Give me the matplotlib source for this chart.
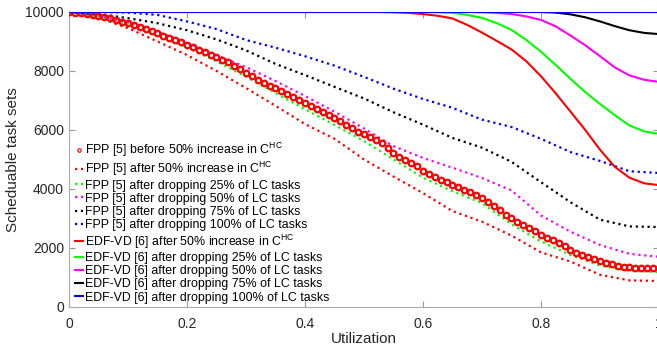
import numpy as np
import matplotlib
matplotlib.use('Agg')
import matplotlib.pyplot as plt

plt.rcParams['font.family'] = ['Liberation Sans', 'DejaVu Sans']
plt.rcParams['mathtext.fontset'] = 'custom'
plt.rcParams['mathtext.rm'] = 'Liberation Sans'

# utilization grids: FPP dotted lines (0.05 step), circles (0.01 step), EDF-VD lines (0.025 step after 0.5)
util = [0.0, 0.05, 0.1, 0.15, 0.2, 0.25, 0.3, 0.35, 0.4, 0.45, 0.5,
        0.55, 0.6, 0.65, 0.7, 0.75, 0.8, 0.85, 0.9, 0.95, 1.0]
util_fine = [round(i * 0.01, 2) for i in range(101)]
util_edf = [0.0, 0.5, 0.525, 0.55, 0.575, 0.6, 0.625, 0.65, 0.675, 0.7, 0.725,
            0.75, 0.775, 0.8, 0.825, 0.85, 0.875, 0.9, 0.925, 0.95, 0.975, 1.0]

# FPP before 50% increase (circles)
fpp_before = [10000, 9980, 9960, 9930, 9900, 9860, 9830, 9790, 9730, 9670,
              9610, 9550, 9490, 9420, 9350, 9280, 9200, 9120, 9050, 8970,
              8890, 8810, 8720, 8640, 8550, 8470, 8380, 8300, 8170, 8050,
              7940, 7830, 7710, 7600, 7500, 7410, 7310, 7210, 7110, 7010,
              6900, 6800, 6700, 6600, 6500, 6400, 6290, 6170, 6050, 5940,
              5850, 5760, 5660, 5560, 5390, 5220, 5100, 4980, 4880, 4780,
              4620, 4510, 4410, 4320, 4230, 4150, 4060, 3980, 3890, 3800,
              3700, 3560, 3420, 3270, 3120, 3000, 2880, 2780, 2680, 2560,
              2440, 2350, 2260, 2170, 2050, 1930, 1840, 1760, 1690, 1620,
              1560, 1490, 1440, 1400, 1360, 1340, 1330, 1320, 1320, 1320,
              1320]

# FPP dotted curves
fpp_inc50 = [10000, 9810, 9450, 9000, 8540, 8000, 7420, 6820, 6200, 5700, 5000,
             4420, 3860, 3250, 2890, 2420, 1850, 1540, 1090, 900, 880]
fpp_drop25 = [10000, 9840, 9570, 9200, 8790, 8330, 7800, 7250, 6700, 6170, 5620,
              5000, 4380, 3920, 3520, 2800, 2220, 1760, 1400, 1220, 1180]
fpp_drop50 = [10000, 9880, 9650, 9330, 8950, 8530, 8130, 7660, 7150, 6620, 6050,
              5450, 5050, 4720, 4370, 3950, 3100, 2550, 2100, 1800, 1700]
fpp_drop75 = [10000, 9930, 9790, 9620, 9380, 9070, 8700, 8240, 7860, 7460, 7070,
              6600, 6180, 5730, 5400, 4920, 4230, 3550, 2960, 2730, 2710]
fpp_drop100 = [10000, 10000, 9980, 9900, 9680, 9420, 9050, 8790, 8500, 8180, 7800,
               7400, 7050, 6750, 6350, 6100, 5700, 5250, 4950, 4600, 4540]

# EDF-VD solid curves
edf_inc50 = [10000, 10000, 10000, 9990, 9970, 9930, 9870, 9780, 9560, 9300, 9020,
             8730, 8330, 7820, 7240, 6620, 6000, 5330, 4750, 4380, 4190, 4130]
edf_drop25 = [10000, 10000, 10000, 10000, 10000, 10000, 9990, 9970, 9900, 9800, 9620,
              9390, 9050, 8650, 8200, 7730, 7280, 6880, 6500, 6150, 5950, 5870]
edf_drop50 = [10000, 10000, 10000, 10000, 10000, 10000, 10000, 10000, 10000, 9990, 9970,
              9930, 9850, 9730, 9510, 9200, 8870, 8500, 8120, 7850, 7700, 7630]
edf_drop75 = [10000, 10000, 10000, 10000, 10000, 10000, 10000, 10000, 10000, 10000, 10000,
              10000, 10000, 10000, 9980, 9920, 9820, 9680, 9520, 9380, 9290, 9250]
edf_drop100 = [10000] * 22

labels = [r'FPP [5] before 50% increase in C$^{\mathrm{HC}}$',
          r'FPP [5] after 50% increase in C$^{\mathrm{HC}}$',
          'FPP [5] after dropping 25% of LC tasks',
          'FPP [5] after dropping 50% of LC tasks',
          'FPP [5] after dropping 75% of LC tasks',
          'FPP [5] after dropping 100% of LC tasks',
          r'EDF-VD [6] after 50% increase in C$^{\mathrm{HC}}$',
          'EDF-VD [6] after dropping 25% of LC tasks',
          'EDF-VD [6] after dropping 50% of LC tasks',
          'EDF-VD [6] after dropping 75% of LC tasks',
          'EDF-VD [6] after dropping 100% of LC tasks']

colors = ['#ff0000', '#00ff00', '#ff00ff', '#000000', '#0000ff']

fig = plt.figure(figsize=(6.57, 3.52), dpi=100)
ax = fig.add_axes([0.105, 0.128, 0.898, 0.838])

handles = []
h, = ax.plot(util_fine, fpp_before, 'o', color='#ff0000', mfc='none', ms=4, mew=1.6, zorder=5)
handles.append(h)
for ys, c in zip([fpp_inc50, fpp_drop25, fpp_drop50, fpp_drop75, fpp_drop100], colors):
    h, = ax.plot(util, ys, ':', color=c, lw=1.6)
    handles.append(h)
for ys, c in zip([edf_inc50, edf_drop25, edf_drop50, edf_drop75, edf_drop100], colors):
    h, = ax.plot(util_edf, ys, '-', color=c, lw=1.5, zorder=6)
    handles.append(h)

ax.set_xlim(0, 1)
ax.set_ylim(0, 10000)
ax.set_xticks([0, 0.2, 0.4, 0.6, 0.8, 1])
ax.set_xticklabels(['0', '0.2', '0.4', '0.6', '0.8', '1'])
ax.set_yticks([0, 2000, 4000, 6000, 8000, 10000])
ax.tick_params(direction='in', top=True, right=True, length=4, width=0.8,
               color='#999999', labelsize=10, labelcolor='#262626')
ax.tick_params(axis='x', pad=7)
for s in ax.spines.values():
    s.set_color('#aaaaaa')
    s.set_linewidth(0.8)

ax.set_xlabel('Utilization', fontsize=11, color='#262626', labelpad=1)
ax.set_ylabel('Scheduable task sets', fontsize=11, color='#262626', labelpad=4)

leg = ax.legend(handles, labels, loc='lower left', bbox_to_anchor=(-0.005, -0.018),
                frameon=False, fontsize=8.9, handlelength=0.7, handletextpad=0.15,
                labelspacing=0.1, numpoints=1, borderpad=0.2)
for lh in leg.legend_handles[:1]:
    lh.set_markersize(2.5)
    lh.set_markeredgewidth(0.8)

plt.savefig('out.png', dpi=100)
